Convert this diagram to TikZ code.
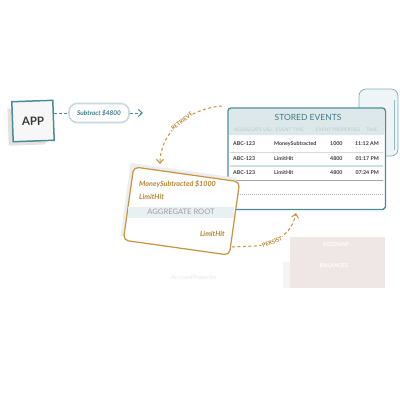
\documentclass[tikz,border=0pt]{standalone}
\usepackage{fontspec}
\setmainfont{Lato}
\usetikzlibrary{arrows.meta,calc}
\definecolor{teal1}{HTML}{4A8C97}
\definecolor{tealtext}{HTML}{3D7C87}
\definecolor{band}{HTML}{DCE8EA}
\definecolor{orng}{HTML}{C8923E}
\definecolor{orngtext}{HTML}{B5842F}
\definecolor{pinkbox}{HTML}{EEE7E5}
\definecolor{pillline}{HTML}{C9DADC}
\definecolor{shadowc}{HTML}{E6E1DC}
\definecolor{rowtext}{HTML}{3A3A3A}
\definecolor{headtext}{HTML}{BFC9CA}
\newcommand\fsz[1]{\fontsize{#1}{#1}\selectfont}
\tikzset{
  tealdash/.style={draw=teal1, line width=1pt, dash pattern=on 3pt off 2pt},
  orngdash/.style={draw=orng, line width=1pt, dash pattern=on 3pt off 2.5pt},
  barb/.style={-{Straight Barb[length=4pt,width=7pt]}},
  rowcell/.style={text=rowtext, font=\bfseries\fsz{5.3}, inner sep=0pt},
  headcell/.style={text=headtext, font=\fsz{4.8}, inner sep=0pt},
  cardtxt/.style={text=orngtext, font=\bfseries\itshape\fsz{7.2}, inner sep=0pt},
  arrowlbl/.style={text=orngtext, font=\bfseries\fsz{5.5}, fill=white, inner sep=0.5pt, sloped},
}
\begin{document}
\begin{tikzpicture}[x=1pt,y=-1pt]
\useasboundingbox[fill=white] (0,0) rectangle (400,400);

% scroll behind table
\draw[teal1!70, line width=0.7pt, fill=band!45, rounded corners=7pt]
  (359,112) -- (359,89) -- (398,89) -- (398,156) -- (380,156);
\draw[teal1!60, line width=0.6pt] (394,100) -- (394,150);

% table
\node[fill=white, minimum width=157pt, minimum height=101pt, anchor=north west, inner sep=0pt, rounded corners=3pt] (table) at (228,108) {};
\fill[band, rounded corners=2.5pt] (228.6,108.6) rectangle (384.4,135);
\fill[band] (228.6,125) rectangle (384.4,135);
\draw[teal1, line width=1.3pt, rounded corners=3pt] (table.south west) rectangle (table.north east);
\node[text=tealtext, font=\fsz{8.5}] (title) at (308,117) {STORED EVENTS};
\node[headcell] (h1) at (253,130) {AGGREGATE UID};
\node[headcell] (h2) at (290,130) {EVENT TYPE};
\node[headcell] (h3) at (338,130) {EVENT PROPERTIES};
\node[headcell] (h4) at (372,130) {TIME};

\node[rowcell, anchor=west] (r1a) at (233,144) {ABC-123};
\node[rowcell, anchor=west] (r1b) at (274,144) {MoneySubtracted};
\node[rowcell, anchor=west] (r1c) at (330,144) {1000};
\node[rowcell, anchor=east] (r1d) at (379,144) {11:12 AM};
\node[rowcell, anchor=west] (r2a) at (233,159) {ABC-123};
\node[rowcell, anchor=west] (r2b) at (274,159) {LimitHit};
\node[rowcell, anchor=west] (r2c) at (330,159) {4800};
\node[rowcell, anchor=east] (r2d) at (379,159) {01:17 PM};
\node[rowcell, anchor=west] (r3a) at (233,173) {ABC-123};
\node[rowcell, anchor=west] (r3b) at (274,173) {LimitHit};
\node[rowcell, anchor=west] (r3c) at (330,173) {4800};
\node[rowcell, anchor=east] (r3d) at (379,173) {07:24 PM};
\draw[black!15, line width=0.6pt] (230,152) -- (383,152);
\draw[band!90!teal1, line width=1.3pt] (230,166) -- (383,166);
\draw[black!35, line width=0.8pt] (230,180) -- (383,180);
\draw[black!30, line width=0.6pt, dash pattern=on 1pt off 1pt] (230,194) -- (383,194);

% APP
\fill[shadowc, rotate around={2:(28,125)}] (8,108) rectangle (45,145);
\node[draw=teal1, line width=1.5pt, fill=black!3, minimum width=41pt, minimum height=40pt, rotate=2, text=rowtext, font=\bfseries\fsz{11.5}] (app) at (33,121) {APP};

% pill
\node[draw=pillline, line width=1.6pt, rounded corners=8pt, fill=white, minimum width=60pt, minimum height=19pt, text=tealtext, font=\bfseries\itshape\fsz{6.5}] (pill) at (99,113) {Subtract \$4800};
\coordinate (appout) at (143,113);
\draw[tealdash] (app.east |- pill.west) -- (pill.west);
\draw[tealdash, barb] (pill.east) -- (appout);

% aggregate card
\fill[black!7, rotate around={-8:(178.5,207)}] (125,170) rectangle (232,244);
\node[draw=orng, line width=1.2pt, rounded corners=5pt, fill=white, minimum width=107pt, minimum height=74pt, rotate=-8] (card) at (181.5,211) {};
\fill[band!65] (128,207) rectangle (234,218);
\node[cardtxt, anchor=west] (ev1) at (139,184) {MoneySubtracted \$1000};
\node[cardtxt, anchor=west] (ev2) at (139,197) {LimitHit};
\node[text=black!38, font=\fsz{7.6}] (aggr) at (181,212) {AGGREGATE ROOT};
\node[cardtxt, anchor=east] (ev3) at (225,234) {LimitHit};

% retrieve
\coordinate (retS) at (222,106);
\coordinate (retE) at (160,164);
\draw[orngdash, barb] (retS) .. controls (192,108) and (160,130) .. (retE)
  node[arrowlbl, pos=0.47] {RETRIEVE};

% persist
\coordinate (perS) at (232,247);
\coordinate (perE) at (296,213);
\draw[orngdash, barb] (perS) -- (255,246) .. controls (278,244) and (292,232) .. (perE)
  node[arrowlbl, pos=0.28] {PERSIST};

% projector box
\fill[black!4] (283,262) rectangle (291,288);
\node[fill=pinkbox, minimum width=95pt, minimum height=51pt, anchor=north west, inner sep=0pt] (proj) at (290,237) {};
\node[text=white, font=\bfseries\fsz{5.5}] (p1) at (336,245) {ACCOUNT};
\node[text=white, font=\bfseries\fsz{5.5}] (p2) at (334,266) {BALANCES};
\node[text=black!9, font=\fsz{6}] (projname) at (194,278) {AccountProjector};
\end{tikzpicture}
\end{document}
